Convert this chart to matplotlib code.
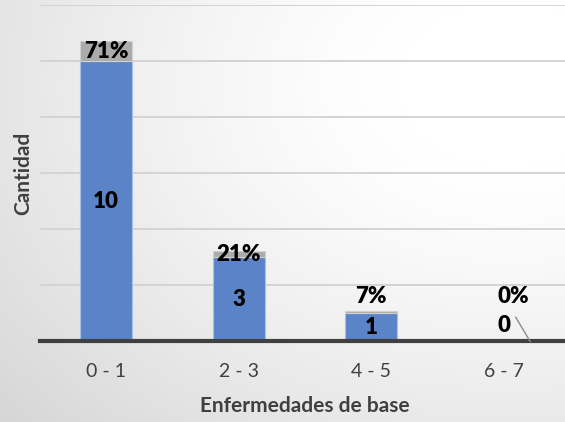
import numpy as np
import matplotlib
matplotlib.use("Agg")
import matplotlib.pyplot as plt

categories = ["0 - 1", "2 - 3", "4 - 5", "6 - 7"]
counts = [10, 3, 1, 0]
shares = [0.71, 0.21, 0.07, 0.0]
share_labels = ["71%", "21%", "7%", "0%"]

plt.rcParams["font.family"] = ["Lato", "DejaVu Sans"]

W, H = 565, 422
fig = plt.figure(figsize=(W / 100, H / 100), dpi=100)

# soft grey-to-white background, lightest toward the upper right
bg = fig.add_axes([0, 0, 1, 1], zorder=-10)
yy, xx = np.mgrid[0:1:200j, 0:1:260j]
d = np.sqrt(((xx - 0.9) / 1.0) ** 2 + ((yy - 0.8) / 1.0) ** 2)
shade = 1.0 - 0.16 * np.clip((d - 0.2) / 1.0, 0, 1) ** 1.3
bg.imshow(np.dstack([shade] * 3), extent=[0, 1, 0, 1], aspect="auto", origin="lower")
bg.set_axis_off()

ax = fig.add_axes([40 / W, 81 / H, 530 / W, 336 / H])
ax.patch.set_alpha(0)
x = np.arange(len(categories))
bw = 0.39
ax.bar(x, counts, bw, color="#5b84c8", edgecolor="#a9c0e6", linewidth=0.8, zorder=3)
ax.bar(x, shares, bw, bottom=counts, color="#ababab", edgecolor="#d0d0d0", linewidth=0.8, zorder=3)

ax.set_xlim(-0.5, 3.5)
ax.set_ylim(0, 12)
ax.set_yticks(np.arange(0, 13, 2))
ax.yaxis.grid(True, color="#d4d4d4", linewidth=1.4, zorder=0)
ax.tick_params(axis="y", left=False, labelleft=False)
ax.tick_params(axis="x", bottom=False, labelsize=14, labelcolor="#404040", pad=12)
ax.set_xticks(x)
ax.set_xticklabels(categories)
for s in ["top", "right", "left"]:
    ax.spines[s].set_visible(False)
ax.spines["bottom"].set_color("#404040")
ax.spines["bottom"].set_linewidth(3)
ax.spines["bottom"].set_zorder(5)

lbl = dict(ha="center", va="center", fontsize=16, fontweight="heavy", color="black", zorder=6)
for i, (c, s, t) in enumerate(zip(counts, shares, share_labels)):
    if c > 0:
        ax.text(i, c / 2, str(c), **lbl)
        if c >= 3:
            ax.text(i, c + s / 2, t, **lbl)
        else:
            ax.text(i, 1.6, t, **lbl)
    else:
        ax.text(i, 0.55, str(c), **lbl)
        ax.text(i + 0.07, 1.6, t, **lbl)
        ax.plot([i + 0.09, i + 0.2], [0.85, -0.02], color="#8c8c8c", lw=1.0, zorder=6, clip_on=False)

ax.set_xlabel("Enfermedades de base", fontsize=15, fontweight="bold", color="#404040", labelpad=12)
fig.text(23 / W, 1 - 173 / H, "Cantidad", rotation=90, ha="center", va="center",
         fontsize=15, fontweight="bold", color="#404040")

fig.savefig("out.png", dpi=100)
